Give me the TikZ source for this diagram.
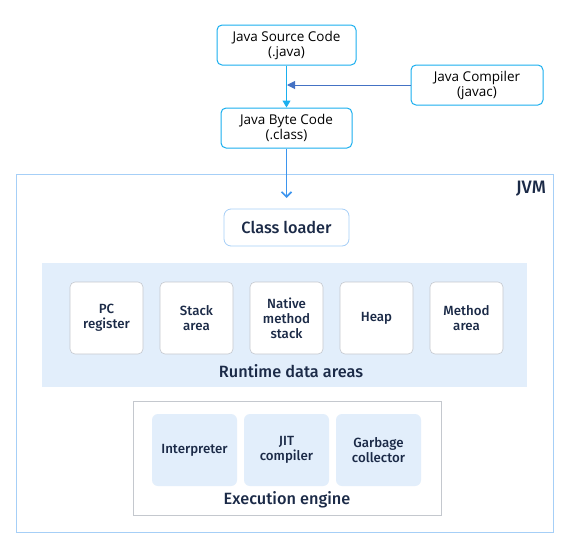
\documentclass[tikz,border=0pt]{standalone}
\usepackage{fontspec}
\setmainfont{Open Sans}
\newfontfamily\medfont{Fira Sans Medium}
\usetikzlibrary{arrows.meta}
\definecolor{cyanb}{HTML}{1AAFEF}
\definecolor{compb}{HTML}{4472C4}
\definecolor{jvmb}{HTML}{A6CFF7}
\definecolor{navy}{HTML}{1B2A47}
\definecolor{panel}{HTML}{E2EEFB}
\definecolor{grayb}{HTML}{C4C8CE}
\definecolor{arrb}{HTML}{3D95EE}
\tikzset{
  topbox/.style={draw=cyanb, line width=1pt, rounded corners=5pt, fill=white, align=center, font=\fontsize{13.5}{15}\selectfont, text=black, inner sep=0pt},
  areabox/.style={draw=grayb, line width=0.6pt, rounded corners=5pt, fill=white, align=center, font=\medfont\fontsize{13.3}{15}\selectfont, text=navy, minimum width=73pt, minimum height=72pt, inner sep=0pt},
  engbox/.style={fill=panel, rounded corners=6pt, align=center, font=\medfont\fontsize{13.3}{15}\selectfont, text=navy, minimum width=85pt, minimum height=72pt, inner sep=0pt},
  lbl/.style={font=\medfont\fontsize{16.3}{19}\selectfont, text=navy},
}
\begin{document}
\begin{tikzpicture}[x=1pt,y=-1pt]
\useasboundingbox (0,0) rectangle (572,549);
% JVM frame
\node[draw=jvmb, line width=0.8pt, minimum width=537pt, minimum height=358pt, anchor=north west, inner sep=0pt] (jvm) at (16,174) {};
\node[lbl, anchor=north east, inner sep=0pt, font=\medfont\fontsize{18}{20}\selectfont] (jvmlbl) at (546,181) {JVM};
% top boxes
\node[topbox, minimum width=139pt, minimum height=40pt] (src) at (286.5,45) {Java Source Code\\(.java)};
\node[topbox, minimum width=132pt, minimum height=40pt] (comp) at (477,85) {Java Compiler\\(javac)};
\node[topbox, minimum width=131pt, minimum height=40pt] (byte) at (286.5,128) {Java Byte Code\\(.class)};
\coordinate (mid) at (287,85);
\draw[cyanb, line width=1pt, -{Triangle[length=7pt,width=8pt]}] (src.south) -- (byte.north);
\draw[compb, line width=1pt, -{Triangle[length=8pt,width=8pt]}] (comp.west) -- (mid);
\coordinate (entry) at (286.5,198);
\draw[arrb, line width=1.6pt, -{Straight Barb[length=5pt,width=10pt]}] (byte.south) -- (entry);
% class loader
\node[draw=jvmb, line width=0.8pt, rounded corners=7pt, fill=white, minimum width=125pt, minimum height=37pt, lbl] (cl) at (286.5,227.5) {Class loader};
% runtime data areas
\node[fill=panel, minimum width=485pt, minimum height=124pt, anchor=north west, inner sep=0pt] (rda) at (42,263) {};
\node[areabox] (pc) at (106.5,318) {PC\\register};
\node[areabox] (stack) at (196.5,318) {Stack\\area};
\node[areabox] (native) at (286.5,318) {Native\\method\\stack};
\node[areabox] (heap) at (376.5,318) {Heap};
\node[areabox] (method) at (466.5,318) {Method\\area};
\node[lbl] (rdalbl) at (291,371) {Runtime data areas};
% execution engine
\node[draw=grayb, line width=0.6pt, fill=white, minimum width=308pt, minimum height=114pt, anchor=north west, inner sep=0pt] (ee) at (133,401) {};
\node[engbox] (interp) at (194.5,450) {Interpreter};
\node[engbox] (jit) at (286.5,450) {JIT\\compiler};
\node[engbox] (gc) at (378.5,450) {Garbage\\collector};
\node[lbl] (eelbl) at (287,500) {Execution engine};
\end{tikzpicture}
\end{document}
